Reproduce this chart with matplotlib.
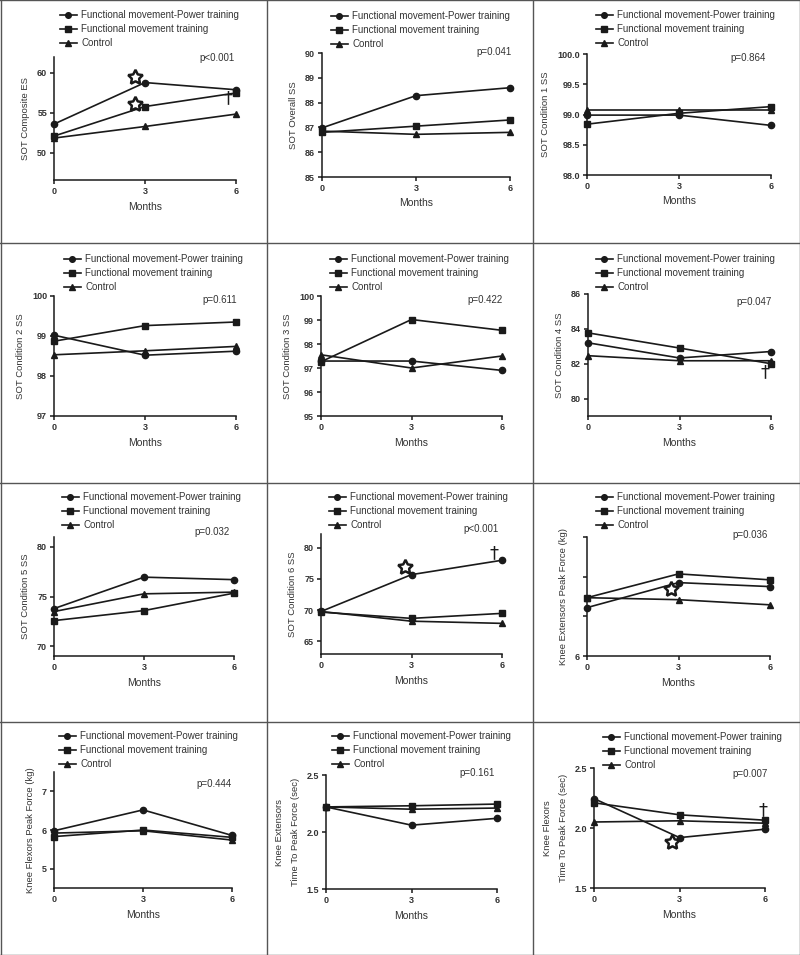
import numpy as np
import matplotlib
matplotlib.use('Agg')
import matplotlib.pyplot as plt
from matplotlib.lines import Line2D

plt.rcParams['font.family'] = ['Liberation Sans', 'DejaVu Sans']

#data
#------------------
months = [0, 3, 6]
groups = ['Functional movement-Power training', 'Functional movement training', 'Control']
markers = ['o', 's', '^']

ylabels = ['SOT Composite ES', 'SOT Overall SS', 'SOT Condition 1 SS',
           'SOT Condition 2 SS', 'SOT Condition 3 SS', 'SOT Condition 4 SS',
           'SOT Condition 5 SS', 'SOT Condition 6 SS', 'Knee Extensors Peak Force (kg)',
           'Knee Flexors Peak Force (kg)', 'Knee Extensors\nTime To Peak Force (sec)',
           'Knee Flexors\nTime To Peak Force (sec)']
pvals = ['p<0.001', 'p=0.041', 'p=0.864', 'p=0.611', 'p=0.422', 'p=0.047',
         'p=0.032', 'p<0.001', 'p=0.036', 'p=0.444', 'p=0.161', 'p=0.007']

fmpt = [[53.6, 58.8, 57.9], [86.98, 88.28, 88.6], [98.99, 98.99, 98.82],
        [99.02, 98.52, 98.62], [97.29, 97.29, 96.9], [83.2, 82.33, 82.7],
        [73.78, 76.95, 76.7], [69.8, 75.7, 78.0], [7.22, 7.85, 7.75],
        [5.98, 6.52, 5.86], [2.22, 2.06, 2.12], [2.245, 1.92, 1.99]]
fmt = [[52.1, 55.8, 57.5], [86.8, 87.05, 87.3], [98.84, 99.02, 99.13],
       [98.87, 99.26, 99.35], [97.26, 99.02, 98.57], [83.77, 82.9, 82.0],
       [72.57, 73.58, 75.34], [69.7, 68.7, 69.5], [7.47, 8.07, 7.92],
       [5.83, 6.0, 5.81], [2.22, 2.23, 2.245], [2.21, 2.11, 2.065]]
ctrl = [[51.85, 53.3, 54.85], [86.85, 86.72, 86.8], [99.07, 99.07, 99.07],
        [98.53, 98.63, 98.74], [97.55, 97.0, 97.5], [82.46, 82.17, 82.17],
        [73.48, 75.27, 75.44], [69.8, 68.25, 67.9], [7.47, 7.42, 7.29],
        [5.92, 5.98, 5.74], [2.22, 2.2, 2.21], [2.05, 2.06, 2.04]]

yticks = [[50, 55, 60], [85, 86, 87, 88, 89, 90], [98.0, 98.5, 99.0, 99.5, 100.0],
          [97, 98, 99, 100], [95, 96, 97, 98, 99, 100], [80, 82, 84, 86],
          [70, 75, 80], [65, 70, 75, 80], [6, 7, 8, 9], [5, 6, 7],
          [1.5, 2.0, 2.5], [1.5, 2.0, 2.5]]
yticklabels = [['50', '55', '60'], ['85', '86', '87', '88', '89', '90'],
               ['98.0', '98.5', '99.0', '99.5', '100.0'], ['97', '98', '99', '100'],
               ['95', '96', '97', '98', '99', '100'], ['80', '82', '84', '86'],
               ['70', '75', '80'], ['65', '70', '75', '80'], ['6', '', '', ''],
               ['5', '6', '7'], ['1.5', '2.0', '2.5'], ['1.5', '2.0', '2.5']]
ylims = [(46.6, 62), (85, 90), (98, 100), (97, 100), (95, 100), (79, 86),
         (69, 81), (63, 82.2), (6, 9), (4.5, 7.5), (1.5, 2.5), (1.5, 2.5)]

# significance symbols (panel, month, value)
stars = [(0, 2.67, 59.5), (0, 2.67, 56.15), (7, 2.79, 76.9), (8, 2.76, 7.69), (11, 2.75, 1.88)]
daggers = [(0, 5.72, 56.85), (5, 5.8, 81.5), (7, 5.72, 79.1), (11, 5.93, 2.15)]

#layout (pixels)
#------------------
W, H = 800, 955
boxes = [(54, 57, 236, 180), (322, 53, 510, 177), (587, 54, 771, 175),
         (54, 296, 236, 416), (321, 296, 502, 416), (588, 294, 771, 416),
         (54, 537, 234, 656), (321, 534, 502, 654), (587, 537, 770, 656),
         (54, 772, 232, 888), (326, 775, 497, 889), (594, 768, 765, 888)]
leg_pos = [(60, 15), (331, 16), (596, 15), (64, 259), (330, 259), (596, 259),
           (62, 497), (329, 497), (596, 497), (59, 736), (332, 736), (603, 737)]
p_pos = [(235, 58), (512, 52), (766, 58), (237, 300), (503, 300), (772, 302),
         (230, 532), (499, 529), (768, 535), (232, 784), (495, 773), (768, 774)]

ink = '#1a1a1a'
txt = '#333333'

fig = plt.figure(figsize=(W/100, H/100), dpi=100)
fig.patch.set_facecolor('white')

for i in range(12):
    l, t, r, b = boxes[i]
    ax = fig.add_axes([l/W, 1-b/H, (r-l)/W, (b-t)/H])
    series = [fmpt[i], fmt[i], ctrl[i]]
    for k in range(3):
        ax.plot(months, series[k], color=ink, lw=1.2, marker=markers[k],
                ms=4.5, mfc=ink, mec=ink, label=groups[k],
                clip_on=False, zorder=3)
    ax.set_xlim(0, 6)
    ax.set_ylim(*ylims[i])
    ax.set_xticks(months)
    ax.set_xticklabels(['0', '3', '6'])
    ax.set_yticks(yticks[i])
    ax.set_yticklabels(yticklabels[i])
    for s in ['top', 'right']:
        ax.spines[s].set_visible(False)
    for s in ['left', 'bottom']:
        ax.spines[s].set_linewidth(1.1)
        ax.spines[s].set_color(ink)
    ax.tick_params(length=3, width=1.1, color=ink, labelsize=6.5, pad=2, labelcolor=txt)
    for lab in ax.get_xticklabels() + ax.get_yticklabels():
        lab.set_fontweight('bold')
    ax.set_xlabel('Months', fontsize=7.5, color=txt, labelpad=4)
    ax.set_ylabel(ylabels[i], fontsize=6.8, color=txt, labelpad=5, linespacing=2.0)

    lx, ly = leg_pos[i]
    ax.legend(loc='upper left', bbox_to_anchor=(lx/W, 1-(ly-5)/H),
              bbox_transform=fig.transFigure, frameon=False, fontsize=7,
              borderpad=0, borderaxespad=0, handlelength=1.7, handletextpad=0.5,
              labelspacing=0.42, labelcolor=txt, markerscale=0.9)

    px, py = p_pos[i]
    fig.text(px/W, 1-py/H, pvals[i], ha='right', va='center', fontsize=7, color=txt)

    for (pn, sx, sy) in stars:
        if pn == i:
            ax.plot(sx, sy, marker=(5, 1, 0), ms=11, mfc='white', mec=ink, mew=1.8,
                    clip_on=False, zorder=4)
    for (pn, dx, dy) in daggers:
        if pn == i:
            ax.text(dx, dy, '\u2020', ha='center', va='center', fontsize=13, color=ink,
                    family='DejaVu Sans', zorder=4)

# panel frame lines
lc = '#555555'
for x in [0.5, 267, 533, 799.5]:
    fig.add_artist(Line2D([x/W, x/W], [0, 1], color=lc, lw=1.0))
for y in [0.5, 243, 483, 722, 954.5]:
    fig.add_artist(Line2D([0, 1], [1-y/H, 1-y/H], color=lc, lw=1.0))

fig.savefig('out.png', dpi=100)
